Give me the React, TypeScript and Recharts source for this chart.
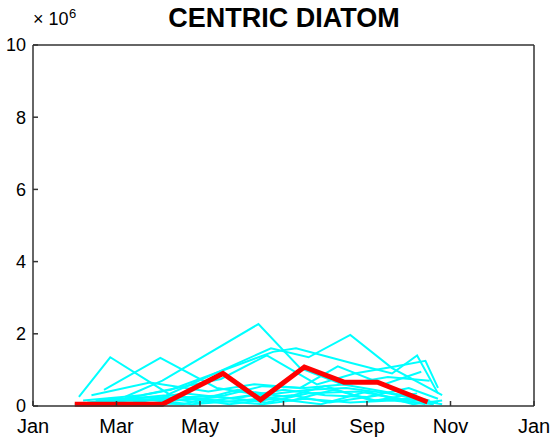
import React from "react";
import { LineChart, Line, XAxis, YAxis } from "recharts";

// sampling month (0 = Jan 1, 12 = next Jan 1) and abundance in units of 1e6
type Pt = { m: number; v: number };
const pts = (months: number[], vals: number[]): Pt[] => months.map((m, i) => ({ m, v: vals[i] }));

const monthTicks = [0, 2, 4, 6, 8, 10, 12];
const monthLabels = ["Jan", "Mar", "May", "Jul", "Sep", "Nov", "Jan"];
const valueTicks = [0, 2, 4, 6, 8, 10];

// highlighted year (red)
const redMonths = [1.0, 3.1, 4.55, 5.45, 6.5, 7.45, 8.25, 9.45];
const redValues = [0.05, 0.05, 0.9, 0.17, 1.08, 0.66, 0.66, 0.11];

// other years (cyan)
const c1 = pts([1.1, 1.85, 3.3, 4.4, 5.5, 6.5, 7.6, 8.6, 9.6], [0.25, 1.35, 0.3, 0.15, 0.05, 0.2, 0.1, 0.15, 0.05]);
const c2 = pts([1.7, 3.05, 4.4, 5.5, 6.6, 7.5, 8.5, 9.6], [0.45, 1.33, 0.5, 0.3, 0.45, 0.5, 0.35, 0.1]);
const c3 = pts([2.2, 3.1, 5.4, 6.4, 7.4, 8.4, 9.5], [0.25, 0.7, 2.27, 1.05, 0.6, 0.4, 0.15]);
const c4 = pts([1.3, 3.2, 5.7, 6.6, 7.6, 8.6, 9.8], [0.1, 0.3, 1.6, 1.35, 1.97, 1.05, 0.3]);
const c5 = pts([1.5, 3.3, 5.75, 6.3, 7.6, 8.6, 9.2, 9.7], [0.05, 0.45, 1.5, 1.6, 1.2, 0.9, 1.4, 0.35]);
const c6 = pts([1.2, 2.6, 4.5, 5.6, 6.8, 7.7, 8.7, 9.4, 9.7], [0.15, 0.3, 0.75, 1.4, 0.6, 0.9, 1.1, 1.25, 0.5]);
const c7 = pts([1.4, 2.8, 4.2, 5.3, 6.4, 7.3, 8.4, 9.3], [0.3, 0.65, 0.4, 0.6, 0.5, 1.1, 0.6, 0.95]);
const c8 = pts([1.6, 3.0, 4.6, 5.5, 6.5, 7.5, 8.5, 9.5], [0.1, 0.2, 0.3, 0.55, 0.5, 0.6, 0.8, 0.7]);
const c9 = pts([1.0, 2.4, 3.6, 4.8, 6.0, 7.0, 8.0, 9.0, 9.7], [0.05, 0.1, 0.35, 0.2, 0.45, 0.3, 0.25, 0.5, 0.2]);
const c10 = pts([1.8, 3.4, 4.5, 5.6, 6.6, 7.8, 8.8, 9.7], [0.2, 0.15, 0.25, 0.1, 0.35, 0.4, 0.2, 0.1]);
const c11 = pts([1.5, 2.9, 4.0, 5.2, 6.2, 7.2, 8.2, 9.2], [0.15, 0.25, 0.1, 0.3, 0.15, 0.45, 0.15, 0.35]);
const c12 = pts([2.0, 3.5, 4.7, 5.8, 6.9, 8.0, 9.1, 9.8], [0.05, 0.25, 0.05, 0.2, 0.05, 0.4, 0.05, 0.15]);
const c13 = pts([1.3, 2.5, 3.8, 5.0, 6.2, 7.1, 8.3, 9.4], [0.05, 0.2, 0.05, 0.15, 0.3, 0.1, 0.3, 0.05]);
const c14 = pts([2.4, 3.6, 4.9, 6.1, 7.0, 8.1, 9.0, 9.8], [0.1, 0.05, 0.45, 0.25, 0.55, 0.15, 0.2, 0.05]);
const cyanYears = [c1, c2, c3, c4, c5, c6, c7, c8, c9, c10, c11, c12, c13, c14];

const redYear = pts(redMonths, redValues);

const font = "'Liberation Sans', Arial, Helvetica, sans-serif";
const axisColor = "#333";

export default function App() {
  return (
    <div style={{ position: "absolute", left: 0, top: 0, width: 559, height: 438, background: "#fff" }}>
      <LineChart width={559} height={438} margin={{ top: 44, right: 24, left: 0, bottom: 0 }}>
        <XAxis
          xAxisId="b"
          type="number"
          dataKey="m"
          domain={[0, 12]}
          ticks={monthTicks}
          interval={0}
          tickFormatter={(_v: number, i: number) => monthLabels[i]}
          height={32}
          tickSize={-5}
          tickMargin={18}
          stroke={axisColor}
          strokeWidth={1.5}
          tick={{ fill: "#000", fontSize: 20, fontFamily: font }}
        />
        <XAxis
          xAxisId="t"
          orientation="top"
          type="number"
          dataKey="m"
          domain={[0, 12]}
          ticks={monthTicks}
          interval={0}
          tickFormatter={() => ""}
          height={1}
          tickSize={-5}
          stroke={axisColor}
          strokeWidth={1.5}
        />
        <YAxis
          yAxisId="l"
          type="number"
          domain={[0, 10]}
          ticks={valueTicks}
          interval={0}
          width={33}
          tickSize={-5}
          tickMargin={12}
          stroke={axisColor}
          strokeWidth={1.5}
          tick={{ fill: "#000", fontSize: 18, fontFamily: font }}
        />
        <YAxis
          yAxisId="r"
          orientation="right"
          type="number"
          domain={[0, 10]}
          ticks={valueTicks}
          interval={0}
          width={1}
          tickSize={-5}
          tickFormatter={() => ""}
          stroke={axisColor}
          strokeWidth={1.5}
        />
        {cyanYears.map((d, i) => (
          <Line
            key={i}
            data={d}
            xAxisId="b"
            yAxisId="l"
            dataKey="v"
            type="linear"
            stroke="#00ffff"
            strokeWidth={2}
            dot={false}
            isAnimationActive={false}
          />
        ))}
        <Line
          data={redYear}
          xAxisId="b"
          yAxisId="l"
          dataKey="v"
          type="linear"
          stroke="#ff0000"
          strokeWidth={5}
          dot={false}
          isAnimationActive={false}
        />
      </LineChart>
      <svg width={559} height={438} style={{ position: "absolute", left: 0, top: 0, pointerEvents: "none" }}>
        <text x={284} y={27} textAnchor="middle" fontFamily={font} fontWeight="bold" fontSize={27}>
          CENTRIC DIATOM
        </text>
        <text x={33} y={25} fontFamily={font} fontSize={18}>
          × 10
        </text>
        <text x={69} y={18} fontFamily={font} fontSize={13}>
          6
        </text>
      </svg>
    </div>
  );
}
